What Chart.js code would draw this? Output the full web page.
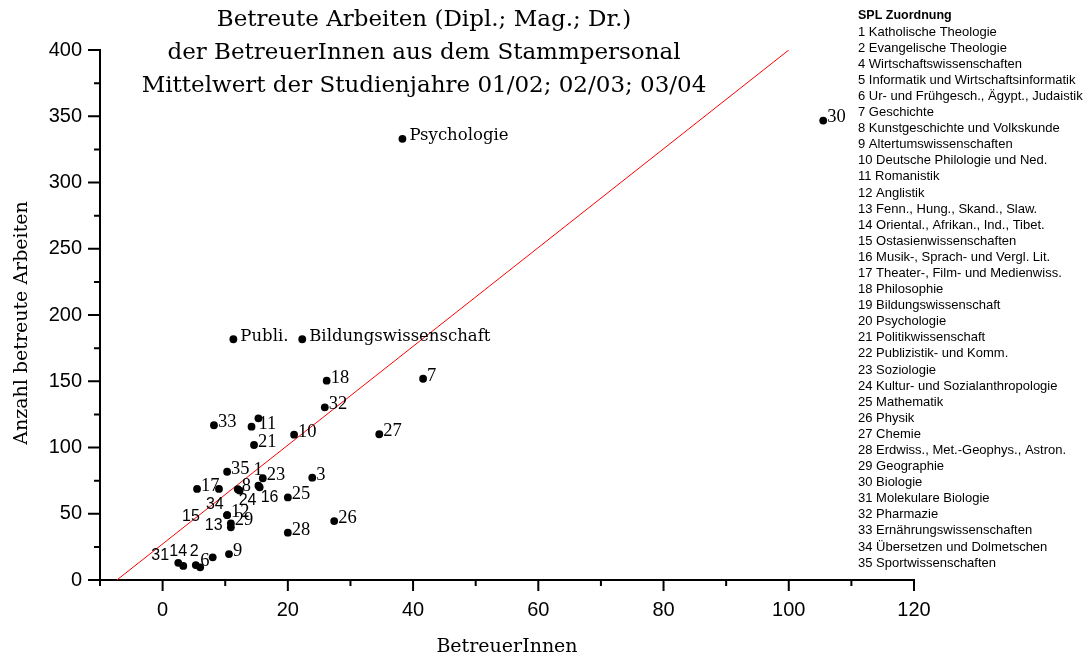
<!DOCTYPE html>
<html>
<head>
<meta charset="utf-8">
<script src="https://cdn.jsdelivr.net/npm/chart.js@4.4.1/dist/chart.umd.min.js"></script>
<style>
  html, body { margin: 0; padding: 0; background: #fff; }
  canvas { display: block; }
</style>
</head>
<body>
<canvas id="chart" width="1090" height="657"></canvas>
<script>
// SPL number, supervisors (x) and supervised theses (y), per institute
const splNr = [1, 2, 3, 4, 5, 6, 7, 8, 9, 10, 11, 12, 13, 14, 15, 16, 17, 18,
  19, 20, 21, 22, 23, 24, 25, 26, 27, 28, 29, 30, 31, 32, 33, 34, 35];
const betreuer = [15.3, 5.3, 23.9, 15.3, 8.0, 6.0, 41.6, 12.0, 10.6, 21.0, 14.2, 10.3,
  10.9, 3.3, 10.3, 15.5, 5.5, 26.2, 22.3, 38.3, 14.6, 11.3, 16.0, 12.3, 20.0,
  27.4, 34.6, 20.0, 10.9, 105.5, 2.5, 25.9, 8.2, 9.0, 10.3];
const arbeiten = [71.2, 11.3, 77.2, 122, 17.1, 9.6, 151.9, 68.5, 19.6, 109.7, 115.7, 49,
  39.8, 10.6, 49, 70.0, 68.7, 150.4, 181.7, 333, 101.9, 181.7, 76.8, 67.5, 62.3,
  44.5, 110, 35.7, 42.8, 346.7, 13, 130.3, 116.8, 68.7, 81.7];
const pointLabels = ['1', '2', '3', '', '', '6', '7', '8', '9', '10', '11', '12',
  '13', '14', '15', '16', '17', '18', 'Bildungswissenschaft', 'Psychologie', '21',
  'Publi.', '23', '24', '25', '26', '27', '28', '29', '30', '31', '32', '33', '34', '35'];

// regression line end points
const fitX = [-7.3, 100];
const fitY = [0, 400];

const xTicks = [0, 20, 40, 60, 80, 100, 120];
const yTicks = [0, 50, 100, 150, 200, 250, 300, 350, 400];

const titleLines = [
  'Betreute Arbeiten (Dipl.; Mag.; Dr.)',
  'der BetreuerInnen aus dem Stammpersonal',
  'Mittelwert der Studienjahre 01/02; 02/03; 03/04'
];
const xTitle = 'BetreuerInnen';
const yTitle = 'Anzahl betreute Arbeiten';

const legendTitle = 'SPL Zuordnung';
const legendLines = [
  '1 Katholische Theologie', '2 Evangelische Theologie', '4 Wirtschaftswissenschaften',
  '5 Informatik und Wirtschaftsinformatik', '6 Ur- und Frühgesch., Ägypt., Judaistik',
  '7 Geschichte', '8 Kunstgeschichte und Volkskunde', '9 Altertumswissenschaften',
  '10 Deutsche Philologie und Ned.', '11 Romanistik', '12 Anglistik',
  '13 Fenn., Hung., Skand., Slaw.', '14 Oriental., Afrikan., Ind., Tibet.',
  '15 Ostasienwissenschaften', '16 Musik-, Sprach- und Vergl. Lit.',
  '17 Theater-, Film- und Medienwiss.', '18 Philosophie', '19 Bildungswissenschaft',
  '20 Psychologie', '21 Politikwissenschaft', '22 Publizistik- und Komm.',
  '23 Soziologie', '24 Kultur- und Sozialanthropologie', '25 Mathematik', '26 Physik',
  '27 Chemie', '28 Erdwiss., Met.-Geophys., Astron.', '29 Geographie', '30 Biologie',
  '31 Molekulare Biologie', '32 Pharmazie', '33 Ernährungswissenschaften',
  '34 Übersetzen und Dolmetschen', '35 Sportwissenschaften'
];

// labels that were moved away from their dot, [dx, dy, sans]
const labelShift = {
  1: [-5, -16, false], 24: [-1, 10, true], 16: [1, 10, true], 34: [-13, 16, true],
  15: [-45, 2, true], 13: [-26, -2, true], 31: [-27, -7, true], 14: [-14, -14, true],
  2: [-6, -13, true], 6: [0, -6, false], 11: [7, -3, false]
};

const SERIF = '"DejaVu Serif", serif';
const NUMSERIF = '"Liberation Serif", serif';
const SANS = '"Liberation Sans", Arial, sans-serif';

const decorations = {
  id: 'decorations',
  beforeDatasetsDraw(chart) {
    const { ctx, scales: { x, y } } = chart;
    const left = x.getPixelForValue(-10);
    const bottom = y.getPixelForValue(0);
    ctx.save();
    ctx.strokeStyle = '#000';
    ctx.lineWidth = 2;
    ctx.beginPath();
    ctx.moveTo(left, bottom);
    ctx.lineTo(left, y.getPixelForValue(400) - 1);
    ctx.moveTo(left - 12, bottom);
    ctx.lineTo(x.getPixelForValue(120) + 1, bottom);
    for (let v = -10; v <= 120; v += 10) {
      const px = x.getPixelForValue(v);
      const len = v % 20 === 0 ? 11 : 6;
      ctx.moveTo(px, bottom);
      ctx.lineTo(px, bottom + len);
    }
    for (let v = 0; v <= 400; v += 25) {
      const py = y.getPixelForValue(v);
      const len = v % 50 === 0 ? 12 : 6;
      ctx.moveTo(left, py);
      ctx.lineTo(left - len, py);
    }
    ctx.stroke();
    ctx.restore();
  },
  afterDatasetsDraw(chart) {
    const ctx = chart.ctx;
    const meta = chart.getDatasetMeta(0);
    ctx.save();
    ctx.fillStyle = '#000';
    ctx.textAlign = 'left';
    ctx.textBaseline = 'middle';
    meta.data.forEach((pt, i) => {
      const txt = pointLabels[i];
      if (!txt) return;
      const nr = splNr[i];
      let dx = 4, dy = -3, sans = false;
      if (labelShift[nr]) [dx, dy, sans] = labelShift[nr];
      if (isNaN(Number(txt))) {
        ctx.font = '16.5px ' + SERIF;
        dx = 7;
      } else {
        ctx.font = sans ? '16px ' + SANS : '18.5px ' + NUMSERIF;
      }
      ctx.fillText(txt, pt.x + dx, pt.y + dy);
    });
    ctx.restore();
  },
  afterDraw(chart) {
    const ctx = chart.ctx;
    ctx.save();
    ctx.fillStyle = '#000';
    ctx.textBaseline = 'middle';

    // title
    ctx.textAlign = 'center';
    ctx.font = '23px ' + SERIF;
    titleLines.forEach((t, i) => ctx.fillText(t, 424, 20 + i * 33));

    // axis titles
    ctx.font = '19px ' + SERIF;
    ctx.fillText(xTitle, 507, 647);
    ctx.translate(22, 323);
    ctx.rotate(-Math.PI / 2);
    ctx.fillText(yTitle, 0, 0);
    ctx.setTransform(1, 0, 0, 1, 0, 0);

    // SPL list on the right
    ctx.textAlign = 'left';
    ctx.font = 'bold 12.5px ' + SANS;
    ctx.fillText(legendTitle, 858, 16);
    ctx.font = '13px ' + SANS;
    legendLines.forEach((t, i) => ctx.fillText(t, 858, 16 + (i + 1) * 16.09));
    ctx.restore();
  }
};

new Chart(document.getElementById('chart'), {
  data: {
    datasets: [{
      type: 'scatter',
      data: betreuer.map((v, i) => ({ x: v, y: arbeiten[i] })),
      pointRadius: 3.9,
      pointHoverRadius: 3.9,
      backgroundColor: '#000',
      borderWidth: 0
    }, {
      type: 'line',
      data: fitX.map((v, i) => ({ x: v, y: fitY[i] })),
      borderColor: '#ff0000',
      borderWidth: 1,
      pointRadius: 0,
      fill: false
    }]
  },
  options: {
    responsive: false,
    animation: false,
    devicePixelRatio: 1,
    layout: { padding: { left: 0, right: 176, top: 50, bottom: 0 } },
    plugins: { legend: { display: false }, tooltip: { enabled: false } },
    scales: {
      x: {
        type: 'linear',
        min: -10,
        max: 120,
        grid: { display: false, drawTicks: false },
        border: { display: false },
        ticks: {
          stepSize: 10,
          autoSkip: false,
          maxRotation: 0,
          padding: 18,
          color: '#000',
          font: { family: 'Liberation Sans', size: 20 },
          callback: v => xTicks.includes(v) ? String(v) : ''
        },
        afterFit(scale) { scale.height = 77; }
      },
      y: {
        type: 'linear',
        min: 0,
        max: 400,
        grid: { display: false, drawTicks: false },
        border: { display: false },
        ticks: {
          stepSize: 25,
          autoSkip: false,
          padding: 18,
          color: '#000',
          font: { family: 'Liberation Sans', size: 20 },
          callback: v => yTicks.includes(v) ? String(v) : ''
        },
        afterFit(scale) { scale.width = 100; }
      }
    }
  },
  plugins: [decorations]
});
</script>
</body>
</html>
